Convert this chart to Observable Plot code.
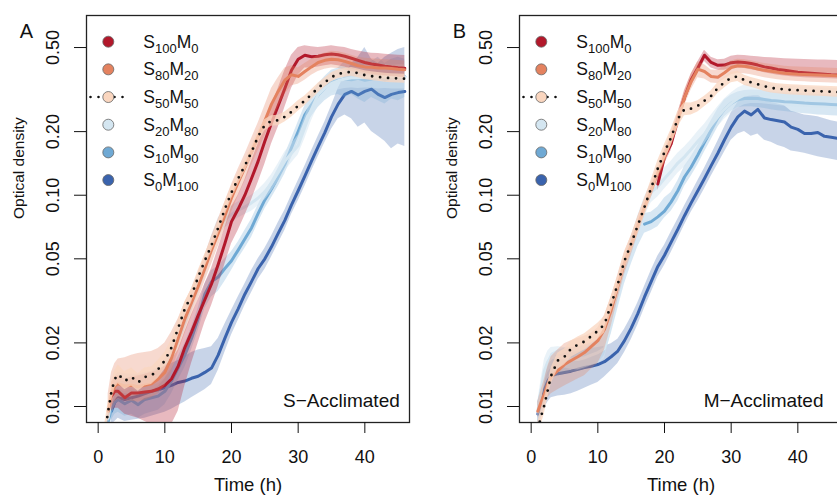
<!DOCTYPE html>
<html><head><meta charset="utf-8">
<script src="https://cdn.jsdelivr.net/npm/d3@7"></script>
<script src="https://cdn.jsdelivr.net/npm/@observablehq/plot@0.6"></script>
<style>
html,body{margin:0;padding:0;background:#fff;}
#wrap{position:relative;width:837px;height:501px;overflow:hidden;font-family:"Liberation Sans",Arial,sans-serif;}
#wrap svg{position:absolute;top:0;}
</style></head><body><div id="wrap"></div>
<script>
// ---------- shared definitions ----------
const times = [1,1.5,2,2.5, 3,4,5,6,7,8,9,10, 11,12,13,14,15,16,17,18,19,20, 21,22,23,24,25,26,27,28,29,30, 31,32,33,34,35,36,37,38,39,40, 41,42,43,44,45,46];
const seriesNames = ["S100M0","S80M20","S50M50","S20M80","S10M90","S0M100"];
const seriesLabelParts = [["S","100","M","0"],["S","80","M","20"],["S","50","M","50"],["S","20","M","80"],["S","10","M","90"],["S","0","M","100"]];
const seriesColors = ["#B2182B","#E4825F","#FAD6BF","#D4E6F1","#6FA9D4","#3A63AD"];
const xTicks = [0,10,20,30,40];
const yTicks = [0.01,0.02,0.05,0.1,0.2,0.5];
const panelLetters = ["A","B"];
const panelNotes = ["S\u2212Acclimated","M\u2212Acclimated"];
const yLabel = "Optical density";
const xLabel = "Time (h)";

// ---------- Panel A (S-acclimated) ----------
const A_S100M0_mean = [null,null,0.0112,0.0118, 0.0118,0.011,0.0116,0.0116,0.0117,0.0118,0.0121,0.0126, 0.0135,0.0155,0.019,0.0225,0.027,0.032,0.038,0.047,0.059,0.075, 0.086,0.1,0.12,0.145,0.18,0.22,0.265,0.32,0.39,0.44, 0.46,0.452,0.455,0.462,0.466,0.462,0.455,0.445,0.435,0.425, 0.418,0.413,0.408,0.404,0.401,0.399];
const A_S100M0_lo = [null,null,0.0095,0.0098, 0.0098,0.0092,0.009,0.0088,0.0085,0.0082,0.008,0.008, 0.0082,0.0095,0.0125,0.016,0.02,0.025,0.03,0.037,0.047,0.059, 0.068,0.08,0.095,0.115,0.14,0.175,0.21,0.26,0.32,0.37, 0.4,0.4,0.405,0.41,0.415,0.41,0.405,0.395,0.388,0.38, 0.375,0.37,0.368,0.365,0.362,0.36];
const A_S100M0_hi = [null,null,0.013,0.0138, 0.014,0.0135,0.0138,0.014,0.0142,0.0145,0.0148,0.0155, 0.0165,0.0185,0.0225,0.027,0.032,0.038,0.045,0.056,0.07,0.088, 0.1,0.118,0.145,0.175,0.215,0.265,0.32,0.39,0.46,0.5, 0.51,0.505,0.5,0.505,0.51,0.505,0.5,0.49,0.482,0.475, 0.47,0.468,0.465,0.462,0.46,0.458];

const A_S80M20_mean = [null,0.0095,0.0115,0.0125, 0.0128,0.0125,0.0126,0.0124,0.0126,0.0128,0.0135,0.0145, 0.017,0.021,0.026,0.031,0.037,0.045,0.055,0.066,0.08,0.097, 0.115,0.135,0.16,0.19,0.225,0.27,0.31,0.35,0.372,0.365, 0.385,0.405,0.425,0.435,0.44,0.438,0.43,0.42,0.41,0.405, 0.403,0.4,0.4,0.398,0.395,0.393];
const A_S80M20_lo = [null,0.0085,0.0098,0.0105, 0.0108,0.0106,0.0106,0.0105,0.0107,0.011,0.0115,0.0125, 0.0145,0.018,0.022,0.0265,0.032,0.039,0.047,0.057,0.069,0.083, 0.099,0.116,0.138,0.163,0.19,0.225,0.26,0.3,0.33,0.335, 0.35,0.37,0.385,0.395,0.4,0.398,0.392,0.385,0.378,0.373, 0.37,0.368,0.367,0.366,0.364,0.362];
const A_S80M20_hi = [null,0.0115,0.0145,0.016, 0.0168,0.017,0.0175,0.0178,0.018,0.0182,0.0188,0.02, 0.0225,0.026,0.031,0.036,0.043,0.052,0.064,0.077,0.093,0.112, 0.133,0.156,0.185,0.22,0.265,0.32,0.36,0.4,0.41,0.4, 0.42,0.44,0.46,0.47,0.48,0.478,0.47,0.46,0.45,0.445, 0.442,0.44,0.438,0.436,0.434,0.432];

const A_S50M50_mean = [0.0075,0.0095,0.0118,0.0135, 0.0142,0.0132,0.0138,0.013,0.0138,0.014,0.015,0.0165, 0.019,0.0235,0.029,0.0335,0.041,0.049,0.058,0.07,0.086,0.103, 0.12,0.138,0.16,0.19,0.215,0.225,0.226,0.235,0.248,0.265, 0.28,0.3,0.322,0.342,0.362,0.375,0.38,0.384,0.378,0.37, 0.366,0.363,0.36,0.358,0.357,0.356];
const A_S50M50_lo = [0.0068,0.0086,0.0106,0.0122, 0.0128,0.012,0.0125,0.0118,0.0125,0.0127,0.0136,0.015, 0.0173,0.0215,0.0268,0.031,0.038,0.0455,0.054,0.065,0.08,0.096, 0.112,0.129,0.15,0.178,0.202,0.212,0.213,0.222,0.234,0.25, 0.265,0.284,0.305,0.325,0.344,0.357,0.362,0.366,0.36,0.353, 0.349,0.346,0.343,0.341,0.34,0.339];
const A_S50M50_hi = [0.0083,0.0105,0.013,0.0148, 0.0157,0.0146,0.0152,0.0143,0.0152,0.0154,0.0165,0.018, 0.0207,0.0255,0.0312,0.036,0.044,0.0525,0.062,0.075,0.092,0.11, 0.128,0.147,0.17,0.202,0.228,0.238,0.239,0.248,0.262,0.28, 0.295,0.316,0.339,0.359,0.38,0.393,0.398,0.402,0.396,0.388, 0.384,0.381,0.378,0.376,0.375,0.374];

const A_S20M80_mean = [null,0.0088,0.011,0.0125, 0.013,0.0128,0.0127,0.0127,0.013,0.0132,0.0138,0.015, 0.0175,0.021,0.0255,0.031,0.038,0.046,0.058,0.071,0.077,0.081, 0.085,0.088,0.092,0.097,0.104,0.114,0.128,0.145,0.158,0.172, 0.21,0.255,0.3,0.322,0.338,0.348,0.355,0.36,0.36,0.362, 0.364,0.362,0.365,0.363,0.364,0.364];
const A_S20M80_lo = [null,0.008,0.0099,0.0112, 0.0117,0.0115,0.0114,0.0114,0.0117,0.0119,0.0124,0.0135, 0.0158,0.019,0.023,0.028,0.034,0.041,0.052,0.064,0.07,0.074, 0.078,0.081,0.084,0.089,0.095,0.104,0.116,0.13,0.142,0.155, 0.185,0.225,0.265,0.29,0.305,0.315,0.32,0.322,0.32,0.322, 0.322,0.318,0.32,0.318,0.318,0.318];
const A_S20M80_hi = [null,0.0097,0.0122,0.0139, 0.0145,0.0143,0.0142,0.0142,0.0145,0.0147,0.0153,0.0166, 0.0193,0.0232,0.0282,0.0342,0.042,0.051,0.064,0.078,0.085,0.089, 0.093,0.096,0.1,0.106,0.114,0.125,0.141,0.16,0.175,0.192, 0.235,0.285,0.335,0.358,0.375,0.385,0.392,0.4,0.405,0.41, 0.412,0.41,0.415,0.412,0.414,0.415];

const A_S10M90_mean = [null,0.0085,0.0098,0.0105, 0.0108,0.0103,0.0107,0.0102,0.0108,0.011,0.0112,0.0118, 0.0132,0.0152,0.0175,0.021,0.026,0.034,0.039,0.041,0.045,0.049, 0.055,0.062,0.07,0.082,0.095,0.107,0.122,0.14,0.168,0.2, 0.24,0.268,0.298,0.322,0.342,0.35,0.355,0.352,0.358,0.35, 0.355,0.36,0.352,0.36,0.362,0.364];
const A_S10M90_lo = [null,0.0075,0.0086,0.0092, 0.0094,0.009,0.0092,0.0088,0.0092,0.0094,0.0096,0.0102, 0.0115,0.0133,0.0153,0.0185,0.0228,0.029,0.033,0.035,0.039,0.044, 0.05,0.056,0.063,0.074,0.086,0.097,0.11,0.126,0.15,0.178, 0.21,0.235,0.26,0.28,0.295,0.3,0.29,0.3,0.285,0.275, 0.29,0.28,0.27,0.285,0.28,0.29];
const A_S10M90_hi = [null,0.0096,0.011,0.0118, 0.0122,0.0117,0.0122,0.0117,0.0124,0.0126,0.0128,0.0135, 0.015,0.0172,0.0198,0.0236,0.0292,0.038,0.044,0.046,0.05,0.054, 0.06,0.068,0.077,0.09,0.104,0.117,0.134,0.155,0.185,0.222, 0.265,0.3,0.335,0.365,0.39,0.4,0.43,0.41,0.44,0.42, 0.43,0.45,0.42,0.44,0.45,0.44];

const A_S0M100_mean = [null,null,0.0095,0.0105, 0.011,0.0108,0.011,0.0112,0.0115,0.0118,0.012,0.0123, 0.0126,0.013,0.0132,0.0136,0.0139,0.0145,0.0152,0.0175,0.021,0.025, 0.029,0.034,0.039,0.045,0.05,0.057,0.066,0.076,0.09,0.105, 0.123,0.145,0.17,0.198,0.235,0.27,0.3,0.31,0.298,0.31, 0.318,0.3,0.29,0.3,0.306,0.31];
const A_S0M100_lo = [null,null,0.0082,0.0085, 0.0088,0.0085,0.0086,0.0087,0.0088,0.009,0.0092,0.0094, 0.0097,0.0101,0.0105,0.011,0.0115,0.012,0.0127,0.0148,0.018,0.0218, 0.0255,0.03,0.0345,0.04,0.0445,0.051,0.059,0.068,0.081,0.094, 0.11,0.13,0.152,0.177,0.205,0.23,0.24,0.23,0.21,0.22, 0.2,0.19,0.18,0.166,0.175,0.17];
const A_S0M100_hi = [null,null,0.0112,0.0125, 0.013,0.0132,0.0135,0.0138,0.0142,0.0146,0.015,0.0155, 0.016,0.0165,0.0172,0.018,0.0185,0.0188,0.0192,0.021,0.0245,0.0285, 0.033,0.038,0.044,0.05,0.056,0.064,0.074,0.085,0.1,0.117, 0.137,0.162,0.19,0.222,0.265,0.32,0.37,0.42,0.45,0.5, 0.44,0.42,0.45,0.47,0.49,0.5];

// ---------- Panel B (M-acclimated) ----------
const B_S100M0_mean = [null,null,null,null, null,null,null,null,null,null,null,null, null,null,null,null,null,null,null,null,0.113,0.152, 0.175,0.228,0.29,0.352,0.4,0.46,0.425,0.412,0.413,0.424, 0.427,0.425,0.42,0.413,0.405,0.4,0.394,0.39,0.386,0.382, 0.38,0.378,0.376,0.374,0.372,0.371];
const B_S100M0_lo = [null,null,null,null, null,null,null,null,null,null,null,null, null,null,null,null,null,null,null,null,0.105,0.14, 0.163,0.213,0.27,0.328,0.375,0.43,0.4,0.39,0.39,0.398, 0.4,0.398,0.393,0.387,0.38,0.375,0.37,0.367,0.364,0.362, 0.36,0.359,0.358,0.357,0.356,0.355];
const B_S100M0_hi = [null,null,null,null, null,null,null,null,null,null,null,null, null,null,null,null,null,null,null,null,0.121,0.162, 0.188,0.245,0.31,0.375,0.428,0.485,0.45,0.438,0.44,0.455, 0.46,0.458,0.455,0.452,0.449,0.447,0.445,0.443,0.441,0.44, 0.439,0.438,0.437,0.436,0.435,0.434];

const B_S80M20_mean = [0.0095,0.0105,0.0115,0.0128, 0.0138,0.0148,0.0158,0.0165,0.0172,0.018,0.0192,0.0205, 0.0232,0.0285,0.037,0.048,0.058,0.072,0.088,0.106,0.128,0.152, 0.185,0.225,0.29,0.345,0.395,0.385,0.365,0.362,0.38,0.402, 0.41,0.408,0.403,0.396,0.39,0.386,0.382,0.378,0.376,0.374, 0.373,0.372,0.371,0.37,0.369,0.368];
const B_S80M20_lo = [0.0088,0.0095,0.0102,0.011, 0.0115,0.012,0.0125,0.013,0.0135,0.014,0.015,0.016, 0.0185,0.024,0.032,0.042,0.052,0.065,0.08,0.097,0.118,0.14, 0.17,0.205,0.265,0.315,0.36,0.355,0.34,0.338,0.355,0.372, 0.378,0.376,0.372,0.366,0.36,0.356,0.352,0.349,0.347,0.345, 0.344,0.343,0.342,0.341,0.34,0.339];
const B_S80M20_hi = [0.0105,0.012,0.0135,0.0155, 0.0172,0.0185,0.0198,0.0205,0.021,0.0215,0.0222,0.0235, 0.027,0.033,0.042,0.054,0.064,0.079,0.096,0.115,0.138,0.164, 0.2,0.245,0.315,0.375,0.428,0.415,0.392,0.39,0.41,0.432, 0.44,0.438,0.433,0.426,0.42,0.416,0.412,0.408,0.406,0.404, 0.403,0.402,0.401,0.4,0.399,0.398];

const B_S50M50_mean = [0.0078,0.009,0.0102,0.012, 0.014,0.0165,0.0172,0.0188,0.0196,0.0203,0.0215,0.0228, 0.0245,0.0305,0.038,0.049,0.059,0.072,0.088,0.108,0.134,0.16, 0.188,0.23,0.255,0.257,0.265,0.28,0.295,0.322,0.342,0.36, 0.365,0.35,0.342,0.335,0.328,0.322,0.319,0.317,0.315,0.314, 0.313,0.312,0.311,0.31,0.309,0.308];
const B_S50M50_lo = [0.0071,0.0082,0.0093,0.011, 0.0128,0.015,0.0157,0.0171,0.0178,0.0185,0.0196,0.0208, 0.0223,0.0278,0.0346,0.0446,0.0537,0.0655,0.08,0.098,0.122,0.146, 0.171,0.21,0.238,0.24,0.248,0.262,0.278,0.303,0.322,0.341, 0.345,0.331,0.324,0.317,0.31,0.305,0.302,0.3,0.298,0.297, 0.296,0.295,0.294,0.293,0.292,0.291];
const B_S50M50_hi = [0.0085,0.0098,0.0111,0.013, 0.0152,0.0179,0.0187,0.0204,0.0213,0.0221,0.0234,0.0248, 0.0267,0.0332,0.0414,0.0534,0.0643,0.0785,0.096,0.118,0.146,0.174, 0.205,0.25,0.274,0.273,0.28,0.294,0.312,0.341,0.362,0.381, 0.386,0.37,0.361,0.354,0.347,0.341,0.337,0.335,0.333,0.332, 0.331,0.33,0.329,0.328,0.327,0.326];

const B_S20M80_mean = [0.0095,0.012,0.0148,0.0163, 0.017,0.0172,0.017,0.0168,0.0167,0.017,0.0175,0.018, 0.0188,0.025,0.034,0.045,0.057,0.072,0.088,0.103,0.11,0.12, 0.13,0.142,0.152,0.165,0.18,0.195,0.215,0.235,0.255,0.272, 0.287,0.298,0.302,0.302,0.3,0.298,0.296,0.294,0.293,0.292, 0.291,0.29,0.289,0.288,0.287,0.286];
const B_S20M80_lo = [0.0085,0.0105,0.013,0.0145, 0.0152,0.0154,0.0152,0.015,0.0149,0.0152,0.0156,0.016, 0.0168,0.0225,0.0305,0.0405,0.051,0.064,0.079,0.092,0.098,0.107, 0.116,0.127,0.136,0.148,0.161,0.175,0.193,0.211,0.229,0.245, 0.258,0.268,0.272,0.272,0.27,0.268,0.266,0.264,0.263,0.262, 0.261,0.26,0.259,0.258,0.257,0.256];
const B_S20M80_hi = [0.0106,0.0135,0.0168,0.0183, 0.019,0.0192,0.019,0.0188,0.0187,0.019,0.0195,0.0201, 0.021,0.0278,0.0378,0.05,0.0635,0.08,0.098,0.115,0.123,0.134, 0.145,0.158,0.169,0.183,0.2,0.217,0.239,0.262,0.285,0.305, 0.322,0.332,0.336,0.336,0.334,0.332,0.33,0.328,0.327,0.326, 0.325,0.324,0.323,0.322,0.321,0.32];

const B_S10M90_mean = [null,null,null,null, null,null,null,null,null,null,null,null, null,null,null,null,null,null,0.073,0.075,0.079,0.084, 0.093,0.105,0.122,0.136,0.155,0.178,0.203,0.232,0.255,0.272, 0.283,0.287,0.288,0.287,0.284,0.281,0.279,0.277,0.276,0.275, 0.273,0.272,0.271,0.27,0.269,0.268];
const B_S10M90_lo = [0.0082,0.0095,0.011,0.0125, 0.0135,0.014,0.0142,0.0145,0.0147,0.015,0.0155,0.016, 0.0175,0.022,0.029,0.038,0.047,0.057,0.066,0.068,0.071,0.078, 0.084,0.094,0.11,0.123,0.139,0.16,0.183,0.21,0.235,0.25, 0.26,0.262,0.262,0.26,0.257,0.254,0.251,0.249,0.247,0.245, 0.243,0.242,0.24,0.239,0.238,0.237];
const B_S10M90_hi = [0.0105,0.0125,0.0145,0.0165, 0.0178,0.0185,0.0188,0.019,0.0192,0.0195,0.02,0.0208, 0.0225,0.029,0.038,0.05,0.062,0.076,0.082,0.083,0.088,0.097, 0.103,0.117,0.137,0.152,0.172,0.197,0.225,0.256,0.282,0.298, 0.308,0.313,0.315,0.314,0.312,0.309,0.307,0.305,0.304,0.303, 0.302,0.301,0.3,0.299,0.298,0.297];

const B_S0M100_mean = [0.0092,0.0105,0.012,0.0132, 0.014,0.0143,0.0145,0.0147,0.015,0.0153,0.0155,0.0158, 0.0163,0.0172,0.0183,0.0205,0.0235,0.0275,0.033,0.039,0.046,0.052, 0.06,0.069,0.08,0.092,0.105,0.12,0.138,0.158,0.183,0.21, 0.235,0.25,0.24,0.255,0.232,0.228,0.225,0.222,0.21,0.205, 0.196,0.196,0.198,0.19,0.188,0.186];
const B_S0M100_lo = [0.0078,0.0088,0.0098,0.0105, 0.011,0.0112,0.0113,0.0115,0.0118,0.0122,0.0126,0.013, 0.0138,0.0148,0.016,0.018,0.0207,0.0243,0.0292,0.0345,0.041,0.0465, 0.0535,0.062,0.072,0.083,0.094,0.107,0.123,0.14,0.16,0.182, 0.195,0.2,0.19,0.195,0.182,0.178,0.172,0.168,0.162,0.16, 0.158,0.155,0.152,0.15,0.148,0.146];
const B_S0M100_hi = [0.0105,0.0122,0.014,0.0158, 0.017,0.0175,0.0178,0.018,0.0182,0.0185,0.0188,0.019, 0.0193,0.0198,0.0208,0.0232,0.0265,0.031,0.037,0.044,0.0515,0.058, 0.067,0.077,0.089,0.102,0.117,0.134,0.155,0.18,0.21,0.245, 0.275,0.3,0.295,0.3,0.28,0.275,0.27,0.265,0.25,0.245, 0.24,0.238,0.235,0.23,0.225,0.222];

// ---------- assemble ----------
const panelData = [
  {S100M0:[A_S100M0_mean,A_S100M0_lo,A_S100M0_hi], S80M20:[A_S80M20_mean,A_S80M20_lo,A_S80M20_hi], S50M50:[A_S50M50_mean,A_S50M50_lo,A_S50M50_hi],
   S20M80:[A_S20M80_mean,A_S20M80_lo,A_S20M80_hi], S10M90:[A_S10M90_mean,A_S10M90_lo,A_S10M90_hi], S0M100:[A_S0M100_mean,A_S0M100_lo,A_S0M100_hi]},
  {S100M0:[B_S100M0_mean,B_S100M0_lo,B_S100M0_hi], S80M20:[B_S80M20_mean,B_S80M20_lo,B_S80M20_hi], S50M50:[B_S50M50_mean,B_S50M50_lo,B_S50M50_hi],
   S20M80:[B_S20M80_mean,B_S20M80_lo,B_S20M80_hi], S10M90:[B_S10M90_mean,B_S10M90_lo,B_S10M90_hi], S0M100:[B_S0M100_mean,B_S0M100_lo,B_S0M100_hi]}
];
const drawOrder = ["S0M100","S10M90","S20M80","S100M0","S80M20","S50M50"];
const ribbonOpacity = {S100M0:0.3,S80M20:0.3,S50M50:0.75,S20M80:0.5,S10M90:0.28,S0M100:0.28};
const colorOf = Object.fromEntries(seriesNames.map((s,i)=>[s,seriesColors[i]]));

const FONT = "Liberation Sans, Arial, Helvetica, sans-serif";
const layout = {width:420, height:501, marginLeft:86, marginRight:11, marginTop:15, marginBottom:79};
const panelOffsets = [0, 433.3];
const noteDx = [-9.7, -19];

function rowsFor(arrs) {
  const [m, lo, hi] = arrs;
  if (m.length !== times.length || lo.length !== times.length || hi.length !== times.length) console.warn("length mismatch");
  return times.map((t, i) => ({t, v: m[i], lo: lo[i], hi: hi[i]}));
}

function makePanel(p) {
  const data = panelData[p];
  const marks = [];
  for (const s of drawOrder) {
    const rows = rowsFor(data[s]);
    marks.push(Plot.areaY(rows, {x: "t", y1: "lo", y2: "hi", fill: colorOf[s], fillOpacity: ribbonOpacity[s], curve: "linear", clip: true}));
    if (s === "S50M50") {
      marks.push(Plot.line(rows, {x: "t", y: "v", stroke: "#111", strokeWidth: 2.8, strokeDasharray: "0 8", strokeLinecap: "round", clip: true}));
    } else {
      marks.push(Plot.line(rows, {x: "t", y: "v", stroke: colorOf[s], strokeWidth: 3, strokeLinecap: "round", strokeLinejoin: "round", clip: true}));
    }
  }
  marks.push(Plot.frame({stroke: "#222", strokeWidth: 1.3}));
  marks.push(Plot.axisX({ticks: xTicks, tickSize: 11, tickPadding: 17, fontSize: 18, label: null, tickFormat: d => String(d)}));
  marks.push(Plot.axisY({ticks: yTicks, tickSize: 12, tickPadding: 15.5, tickRotate: -90, fontSize: 18, label: null, tickFormat: d => d.toFixed(2)}));
  marks.push(Plot.text([yLabel], {text: d => d, frameAnchor: "left", dx: -67, rotate: -90, fontSize: 15.5, fill: "#111"}));
  marks.push(Plot.text([xLabel], {text: d => d, frameAnchor: "bottom", dy: 68.3, fontSize: 18.5, fill: "#111"}));
  marks.push(Plot.text([panelLetters[p]], {text: d => d, frameAnchor: "top-left", dx: -66.7, dy: 7.9, fontSize: 20, fill: "#111"}));
  marks.push(Plot.text([panelNotes[p]], {text: d => d, frameAnchor: "bottom-right", textAnchor: "end", lineAnchor: "bottom", dx: noteDx[p], dy: -15.7, fontSize: 19, fill: "#111"}));

  const svg = Plot.plot({
    ...layout,
    style: {fontFamily: FONT, fontSize: "18px", background: "transparent", overflow: "visible", color: "#111"},
    x: {domain: [-1.75, 46.7]},
    y: {type: "log", domain: [0.0084, 0.709]},
    marks
  });
  svg.style.left = panelOffsets[p] + "px";

  // legend
  const g = d3.select(svg).append("g").attr("font-family", FONT).attr("fill", "#111").attr("text-anchor", "start");
  seriesNames.forEach((s, i) => {
    const cy = 41.7 + i * 27.67;
    if (s === "S50M50") {
      g.append("line").attr("x1", 90.5).attr("x2", 123).attr("y1", cy).attr("y2", cy)
        .attr("stroke", "#111").attr("stroke-width", 2.6).attr("stroke-dasharray", "0 8").attr("stroke-linecap", "round");
    }
    g.append("circle").attr("cx", 108.3).attr("cy", cy).attr("r", 5.5)
      .attr("fill", seriesColors[i]).attr("stroke", "#666").attr("stroke-width", 0.8);
    const parts = seriesLabelParts[i];
    const t = g.append("text").attr("x", 143.3).attr("y", cy + 6).attr("font-size", 17.5).attr("text-anchor", "start");
    t.append("tspan").text(parts[0]);
    t.append("tspan").attr("dy", 4.8).attr("font-size", 13).text(parts[1]);
    t.append("tspan").attr("dy", -4.8).text(parts[2]);
    t.append("tspan").attr("dy", 4.8).attr("font-size", 13).text(parts[3]);
  });
  return svg;
}

const wrap = document.getElementById("wrap");
wrap.appendChild(makePanel(0));
wrap.appendChild(makePanel(1));
</script></body></html>
